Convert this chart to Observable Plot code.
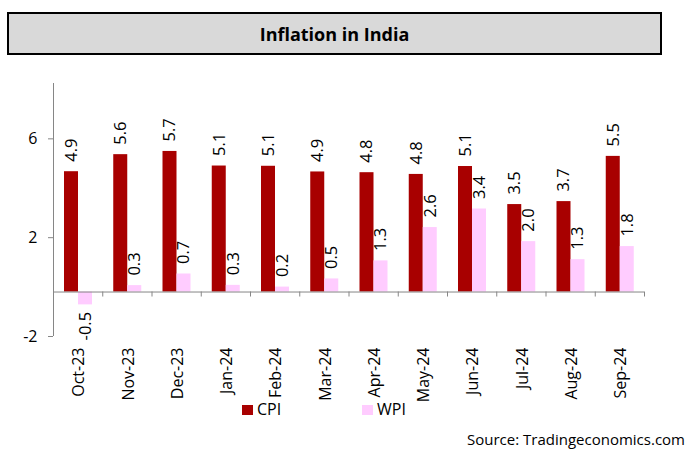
<!DOCTYPE html>
<html>
<head>
<meta charset="utf-8">
<script src="https://cdn.jsdelivr.net/npm/d3@7"></script>
<script src="https://cdn.jsdelivr.net/npm/@observablehq/plot@0.6"></script>
<style>
  html, body { margin: 0; padding: 0; background: #fff; }
  #wrap { position: relative; width: 693px; height: 459px; overflow: hidden; font-family: "Open Sans", sans-serif; }
  #chart { position: absolute; left: 0; top: 0; }
  #title { position: absolute; left: 7px; top: 12px; width: 655px; height: 43px; box-sizing: border-box;
    border: 2px solid #000; background: #d9d9d9; display: flex; align-items: center; justify-content: center;
    font-weight: bold; font-size: 18px; color: #000; }
  .sw { position: absolute; width: 11px; height: 10px; }
  .lg { position: absolute; font-size: 16px; line-height: 16px; color: #000; white-space: nowrap; }
  #source { position: absolute; right: 8px; top: 432px; font-size: 15px; line-height: 15px; color: #000; white-space: nowrap; }
</style>
</head>
<body>
<div id="wrap">
  <div id="chart"></div>
  <div id="title"></div>
  <div class="sw" id="swCPI" style="left:242px; top:405px;"></div>
  <div class="lg" id="lgCPI" style="left:257px; top:401px;"></div>
  <div class="sw" id="swWPI" style="left:362px; top:405px;"></div>
  <div class="lg" id="lgWPI" style="left:377px; top:401px;"></div>
  <div id="source"></div>
</div>
<script>
const title = "Inflation in India";
const source = "Source: Tradingeconomics.com";
const months = ["Oct-23", "Nov-23", "Dec-23", "Jan-24", "Feb-24", "Mar-24", "Apr-24", "May-24", "Jun-24", "Jul-24", "Aug-24", "Sep-24"];
const cpi = [4.87, 5.56, 5.69, 5.10, 5.09, 4.86, 4.83, 4.76, 5.08, 3.54, 3.66, 5.49];
const wpi = [-0.52, 0.26, 0.73, 0.27, 0.20, 0.53, 1.26, 2.61, 3.36, 2.04, 1.31, 1.84];
const seriesNames = ["CPI", "WPI"];
const seriesColors = ["#a80000", "#ffccff"];
const yTicks = [-1.8, 2.2, 6.2];
const yTickLabels = ["-2", "2", "6"];

const rows = months.map((m, i) => ({i, month: m, cpi: cpi[i], wpi: wpi[i]}));
const tickLabel = new Map(yTicks.map((t, k) => [t, yTickLabels[k]]));
const gray = "#868686";

const chart = Plot.plot({
  width: 693,
  height: 459,
  marginLeft: 53,
  marginRight: 49,
  marginTop: 83,
  marginBottom: 123,
  style: {fontFamily: "'Open Sans', sans-serif", fontSize: "16px", color: "#000", background: "transparent"},
  x: {type: "linear", domain: [0, months.length], axis: null},
  y: {domain: [-1.8, 8.44], axis: null},
  marks: [
    Plot.rect(rows, {x1: d => d.i, x2: d => d.i + 1, y1: 0, y2: "cpi", fill: seriesColors[0], insetLeft: 11, insetRight: 24.25}),
    Plot.rect(rows, {x1: d => d.i, x2: d => d.i + 1, y1: 0, y2: "wpi", fill: seriesColors[1], insetLeft: 25, insetRight: 10.25}),
    Plot.ruleY([0], {stroke: gray, strokeWidth: 1}),
    Plot.ruleX([0], {stroke: gray, strokeWidth: 1}),
    Plot.ruleX(d3.range(1, months.length + 1), {y1: 0, y2: 0, insetBottom: -5, stroke: gray}),
    Plot.ruleY(yTicks, {x1: 0, x2: 0, insetLeft: -5, stroke: gray}),
    Plot.text(yTicks, {x: 0, y: d => d, text: d => tickLabel.get(d), textAnchor: "end", dx: -16, fontSize: 16, fill: "#000"}),
    Plot.text(rows, {x: d => d.i + 0.5, text: "month", frameAnchor: "bottom", rotate: -90, textAnchor: "end", lineAnchor: "middle", dx: 1, dy: 11, fontSize: 16, fill: "#000"}),
    Plot.text(rows, {x: d => d.i + 0.5, y: "cpi", text: d => d.cpi.toFixed(1), rotate: -90, textAnchor: "start", lineAnchor: "middle", dx: -6.6, dy: -10, fontSize: 16.5, fill: "#000"}),
    Plot.text(rows.filter(d => d.wpi >= 0), {x: d => d.i + 0.5, y: "wpi", text: d => d.wpi.toFixed(1), rotate: -90, textAnchor: "start", lineAnchor: "middle", dx: 7.4, dy: -10, fontSize: 16.5, fill: "#000"}),
    Plot.text(rows.filter(d => d.wpi < 0), {x: d => d.i + 0.5, y: "wpi", text: d => d.wpi.toFixed(1), rotate: -90, textAnchor: "end", lineAnchor: "middle", dx: 7.4, dy: 7, fontSize: 16.5, fill: "#000"})
  ]
});
document.getElementById("chart").appendChild(chart);
document.getElementById("title").textContent = title;
document.getElementById("source").textContent = source;
document.getElementById("swCPI").style.background = seriesColors[0];
document.getElementById("swWPI").style.background = seriesColors[1];
document.getElementById("lgCPI").textContent = seriesNames[0];
document.getElementById("lgWPI").textContent = seriesNames[1];
</script>
</body>
</html>
